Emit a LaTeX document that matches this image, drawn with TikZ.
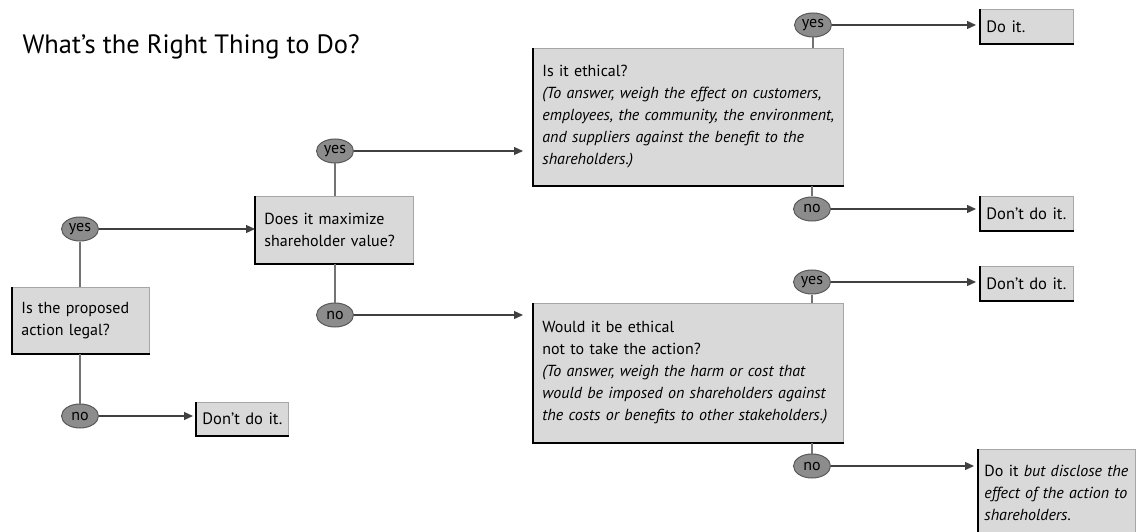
\documentclass[tikz,border=0pt]{standalone}
\usepackage{fontspec}
\setmainfont{PT Sans}
\usetikzlibrary{shapes.geometric,arrows.meta}

\definecolor{boxfill}{HTML}{D9D9D9}
\definecolor{ovalfill}{HTML}{8C8C8C}

\begin{document}
\begin{tikzpicture}[x=1pt,y=-1pt,
    qbox/.style={draw=black!35, fill=boxfill, line width=0.8pt, anchor=north west, align=left,
        inner xsep=9pt, inner ysep=0pt, font=\fontsize{16}{22}\selectfont},
    sbox/.style={qbox, inner xsep=6pt, font=\fontsize{16.5}{22}\selectfont},
    ans/.style={ellipse, draw=black!65, fill=ovalfill, line width=1pt, minimum width=37pt,
        minimum height=24pt, inner sep=0pt, font=\fontsize{16}{16}\selectfont},
    link/.style={draw=black!55, line width=1.5pt},
    go/.style={draw=black!75, line width=1.3pt, -{Triangle[length=9pt,width=8pt]}},
    edge/.style={draw=black, line width=2.2pt}]
    \useasboundingbox (0,0) rectangle (1136,532);
    \node[anchor=west, font=\fontsize{26.5}{30}\selectfont] (title) at (19,47) {What's the Right Thing to Do?};

    % question boxes
    \node[qbox, text width=119pt, minimum height=66pt] (legal) at (12,287) {Is the proposed\\action legal?};
    \node[qbox, text width=140pt, minimum height=67pt] (maxval) at (255,196)
        {Does it maximize\\\mbox{shareholder value?}};
    \node[qbox, text width=292pt, minimum height=137pt] (ethical) at (533,48)
        {Is it ethical?\\\textit{(To answer, weigh the effect on customers,}\\
        \mbox{\textit{employees, the community, the environment,}}\\
        \textit{and suppliers against the benefit to the}\\\textit{shareholders.)}};
    \node[qbox, text width=292pt, minimum height=139pt] (notact) at (533,303)
        {Would it be ethical\\not to take the action?\\
        \textit{(To answer, weigh the harm or cost that}\\
        \mbox{\textit{would be imposed on shareholders against}}\\
        \mbox{\textit{the costs or benefits to other stakeholders.)}}};

    % outcome boxes
    \node[sbox, text width=80pt, minimum height=33pt] (dont1) at (196,402) {Don't do it.};
    \node[sbox, text width=81pt, minimum height=34pt] (doit) at (980,9) {Do it.};
    \node[sbox, text width=81pt, minimum height=34pt] (dont2) at (980,196) {Don't do it.};
    \node[sbox, text width=81pt, minimum height=34pt] (dont3) at (980,266) {Don't do it.};
    \node[sbox, text width=145pt, minimum height=88pt, font=\fontsize{16}{22}\selectfont] (disclose) at (978,449)
        {\mbox{Do it \textit{but disclose the}}\\\textit{effect of the action to}\\\textit{shareholders.}};

    \foreach \b in {legal,maxval,ethical,notact,dont1,doit,dont2,dont3,disclose}
        \draw[edge] (\b.north west) -- (\b.south west) -- (\b.south east);

    % answers
    \node[ans] (yes1) at (80,229) {yes};
    \node[ans] (no1) at (80,416) {no};
    \node[ans] (yes2) at (335,151) {yes};
    \node[ans] (no2) at (335,315) {no};
    \node[ans] (yes3) at (813,25) {yes};
    \node[ans] (no3) at (812,209) {no};
    \node[ans] (yes4) at (812,282) {yes};
    \node[ans] (no4) at (812,466) {no};

    \draw[link] (yes1) -- (yes1 |- legal.north);
    \draw[link] (no1) -- (no1 |- legal.south);
    \draw[link] (yes2) -- (yes2 |- maxval.north);
    \draw[link] (no2) -- (no2 |- maxval.south);
    \draw[link] (yes3) -- (yes3 |- ethical.north);
    \draw[link] (no3) -- (no3 |- ethical.south);
    \draw[link] (yes4) -- (yes4 |- notact.north);
    \draw[link] (no4) -- (no4 |- notact.south);

    \draw[go] (yes1) -- (yes1 -| maxval.west);
    \draw[go, shorten >=3pt] (no1) -- (no1 -| dont1.west);
    \draw[go, shorten >=10pt] (yes2) -- (yes2 -| ethical.west);
    \draw[go, shorten >=10pt] (no2) -- (no2 -| notact.west);
    \draw[go, shorten >=4pt] (yes3) -- (yes3 -| doit.west);
    \draw[go, shorten >=4pt] (no3) -- (no3 -| dont2.west);
    \draw[go, shorten >=4pt] (yes4) -- (yes4 -| dont3.west);
    \draw[go, shorten >=4pt] (no4) -- (no4 -| disclose.west);
\end{tikzpicture}
\end{document}
